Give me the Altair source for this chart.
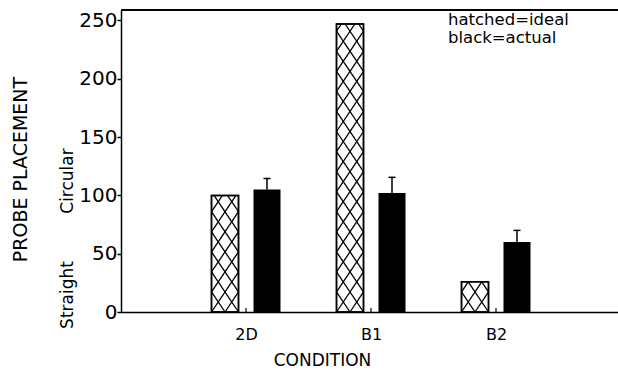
import json
import altair as alt
import pandas as pd

# ---- data ----
conditions = ["2D", "B1", "B2"]
ideal = [100, 247, 26]
actual = [105, 102, 60]
actual_err = [9.5, 13.5, 10]
y_ticks = [0, 50, 100, 150, 200, 250]

# ---- layout constants ----
W_PX, H_PX = 497, 302
X_MAX, Y_MAX = 3.976, 259
BAR_W = 0.216      # bar width in x units
OFF = 0.168        # offset of each bar from the category centre
CAP = 0.028        # half width of error-bar cap
HATCH_P = 17.2     # diamond height of the cross-hatch, in y units
FONT = "DejaVu Sans"

pos = list(range(1, len(conditions) + 1))

ideal_df = pd.DataFrame({
    "cond": conditions,
    "x": [p - OFF - BAR_W / 2 for p in pos],
    "x2": [p - OFF + BAR_W / 2 for p in pos],
    "v": ideal,
})
actual_df = pd.DataFrame({
    "cond": conditions,
    "c": [p + OFF for p in pos],
    "x": [p + OFF - BAR_W / 2 for p in pos],
    "x2": [p + OFF + BAR_W / 2 for p in pos],
    "cl": [p + OFF - CAP for p in pos],
    "cr": [p + OFF + CAP for p in pos],
    "v": actual,
    "top": [a + e for a, e in zip(actual, actual_err)],
})
tick_df = pd.DataFrame({"p": pos, "y0": 0, "y1": 3.5})


def clip_seg(xa, ya, xb, yb, lo, hi):
    dy = yb - ya
    ta, tb = (lo - ya) / dy, (hi - ya) / dy
    t0, t1 = max(0.0, min(ta, tb)), min(1.0, max(ta, tb))
    if t1 <= t0:
        return None
    return (xa + (xb - xa) * t0, ya + dy * t0, xa + (xb - xa) * t1, ya + dy * t1)


# cross-hatch: each line crosses the bar width over two diamond heights
hatch_rows = []
for x0, x1, v in zip(ideal_df["x"], ideal_df["x2"], ideal_df["v"]):
    k = -2
    while k * HATCH_P < v:
        yk = k * HATCH_P
        for seg in [(x0, yk, x1, yk + 2 * HATCH_P), (x0, yk + 2 * HATCH_P, x1, yk)]:
            s = clip_seg(*seg, 0, v)
            if s:
                hatch_rows.append({"x": s[0], "y": s[1], "x2": s[2], "y2": s[3]})
        k += 1
hatch_df = pd.DataFrame(hatch_rows)

xscale = alt.Scale(domain=[0, X_MAX], nice=False, zero=False)
yscale = alt.Scale(domain=[0, Y_MAX], nice=False)

label_expr = f"{json.dumps(conditions)}[datum.value - 1]"
xaxis = alt.Axis(
    values=pos, labelExpr=label_expr, grid=False, ticks=False,
    domainColor="black", domainWidth=1.5, labelFontSize=16, labelColor="black",
    labelPadding=14, title="CONDITION", titleFontSize=17, titleFontWeight="normal",
    titleColor="black", titleX=201, titleY=48, titleAlign="center", titleBaseline="middle",
)
yaxis = alt.Axis(
    values=y_ticks, grid=False, tickSize=4, tickWidth=1.5, tickColor="black",
    domainColor="black", domainWidth=1.5, labelFontSize=20, labelColor="black",
    labelPadding=0, title="PROBE PLACEMENT", titleFontSize=19, titleFontWeight="normal",
    titleColor="black", titleX=-101, titleY=159, titleAlign="center",
    titleBaseline="middle", titleAngle=270,
)

ideal_bars = alt.Chart(ideal_df).mark_bar(
    fill="white", stroke="black", strokeWidth=1.5
).encode(
    x=alt.X("x:Q", scale=xscale, axis=xaxis), x2="x2:Q",
    y=alt.Y("v:Q", scale=yscale, axis=yaxis), y2=alt.datum(0),
)

hatch = alt.Chart(hatch_df).mark_rule(color="black", strokeWidth=1.3).encode(
    x=alt.X("x:Q", scale=xscale, axis=xaxis), x2="x2:Q",
    y=alt.Y("y:Q", scale=yscale, axis=yaxis), y2="y2:Q",
)

ideal_outline = alt.Chart(ideal_df).mark_bar(
    fillOpacity=0, stroke="black", strokeWidth=1.5
).encode(
    x=alt.X("x:Q", scale=xscale, axis=xaxis), x2="x2:Q",
    y=alt.Y("v:Q", scale=yscale, axis=yaxis), y2=alt.datum(0),
)

actual_bars = alt.Chart(actual_df).mark_bar(color="black").encode(
    x=alt.X("x:Q", scale=xscale, axis=xaxis), x2="x2:Q",
    y=alt.Y("v:Q", scale=yscale, axis=yaxis), y2=alt.datum(0),
)

err = alt.Chart(actual_df).mark_rule(color="black", strokeWidth=1.5).encode(
    x=alt.X("c:Q", scale=xscale, axis=xaxis),
    y=alt.Y("v:Q", scale=yscale, axis=yaxis), y2="top:Q",
)
cap = alt.Chart(actual_df).mark_rule(color="black", strokeWidth=1.5).encode(
    x=alt.X("cl:Q", scale=xscale, axis=xaxis), x2="cr:Q",
    y=alt.Y("top:Q", scale=yscale, axis=yaxis),
)

cat_ticks = alt.Chart(tick_df).mark_rule(color="black", strokeWidth=1.2).encode(
    x=alt.X("p:Q", scale=xscale, axis=xaxis),
    y=alt.Y("y0:Q", scale=yscale, axis=yaxis), y2="y1:Q",
)

top_line = alt.Chart(tick_df).mark_rule(color="black", strokeWidth=1.5).encode(
    x=alt.value(0), x2=alt.value(W_PX), y=alt.value(0)
)

legend_df = pd.DataFrame({"t": ["hatched=ideal", "black=actual"], "py": [15, 33]})
legend = alt.Chart(legend_df).mark_text(
    align="left", baseline="alphabetic", fontSize=16.5, font=FONT, color="black"
).encode(x=alt.value(327), y=alt.Y("py:Q", scale=None), text="t:N")

side_df = pd.DataFrame({"t": ["Circular", "Straight"], "py": [171, 285]})
side = alt.Chart(side_df).mark_text(
    align="center", baseline="middle", angle=270, fontSize=17, font=FONT, color="black"
).encode(x=alt.value(-53), y=alt.Y("py:Q", scale=None), text="t:N")

chart = alt.layer(
    ideal_bars, hatch, ideal_outline, actual_bars, err, cap, cat_ticks, top_line, legend, side
).properties(
    width=W_PX, height=H_PX,
    autosize=alt.AutoSizeParams(type="none"),
    padding={"left": 121, "top": 10, "right": 0, "bottom": 63},
).configure_view(stroke=None).configure(font=FONT, background="white")

chart.save("out.html", embed_options={"renderer": "svg", "actions": False})
